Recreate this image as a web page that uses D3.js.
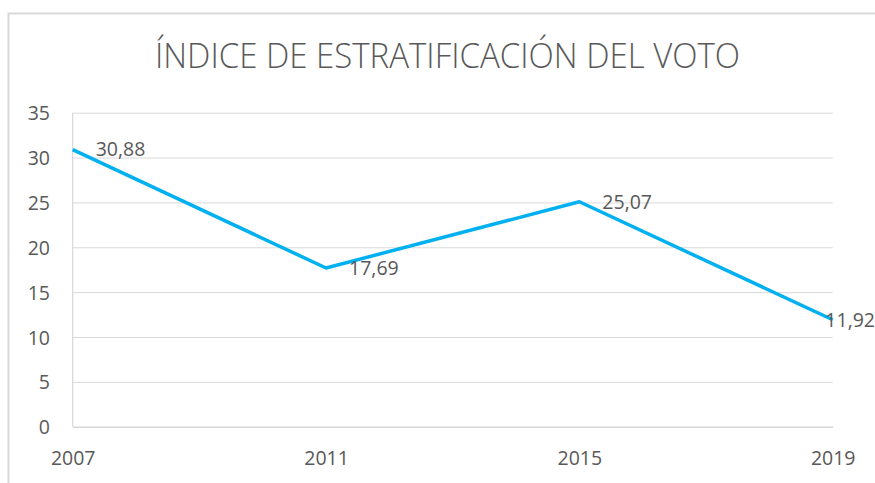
<!DOCTYPE html>
<meta charset="utf-8">
<style>
  body { margin: 0; background: #fff; }
  text { font-family: "Open Sans", "Liberation Sans", sans-serif; fill: #595959; }
</style>
<svg width="875" height="483"></svg>
<script src="https://d3js.org/d3.v7.min.js"></script>
<script>

var title = 'ÍNDICE DE ESTRATIFICACIÓN DEL VOTO'
var years = ['2007', '2011', '2015', '2019']
var values = [30.88, 17.69, 25.07, 11.92]
var yTicks = [0, 5, 10, 15, 20, 25, 30, 35]

var width = 875
var height = 483
// note: "top" is taken by window.top, so plot edges get their own names
var plotLeft = 72.7, plotRight = 832.7, plotTop = 112.7, plotBottom = 426.7

var svg = d3.select('svg')

// chart frame, runs off the right and bottom edge like the picture
svg.append('rect')
  .attr('x', 8.5).attr('y', 13.5)
  .attr('width', 900).attr('height', 500)
  .attr('fill', '#fff')
  .attr('stroke', '#d9d9d9')
  .attr('stroke-width', 2)

svg.append('text')
  .attr('x', 447.5).attr('y', 67.5)
  .attr('text-anchor', 'middle')
  .attr('font-size', 34)
  .attr('font-weight', 300)
  .attr('textLength', 585)
  .attr('lengthAdjust', 'spacingAndGlyphs')
  .text(title)

var x = d3.scalePoint().domain(years).range([plotLeft, plotRight])
var y = d3.scaleLinear().domain([0, 35]).range([plotBottom, plotTop])

// gridlines + value labels
var yAxis = svg.append('g')
  .attr('transform', 'translate(' + plotLeft + ',0)')
  .call(d3.axisLeft(y).tickValues(yTicks).tickSize(-(plotRight - plotLeft)).tickPadding(22.7))
yAxis.select('.domain').remove()
yAxis.selectAll('line').attr('stroke', '#d9d9d9').attr('stroke-width', 1)
yAxis.selectAll('text')
  .attr('font-size', 19.5)
  .attr('fill', '#595959')
  .attr('dy', '0.36em')
yAxis.attr('font-family', null).attr('font-size', null)

// left axis line
svg.append('line')
  .attr('x1', plotLeft).attr('x2', plotLeft)
  .attr('y1', plotTop).attr('y2', plotBottom)
  .attr('stroke', '#d0d0d0')

var xAxis = svg.append('g')
  .attr('transform', 'translate(0,' + plotBottom + ')')
  .call(d3.axisBottom(x).tickSize(0).tickPadding(24.5))
xAxis.select('.domain').attr('stroke', '#d0d0d0')
xAxis.selectAll('text')
  .attr('font-size', 19.5)
  .attr('fill', '#595959')
xAxis.attr('font-family', null).attr('font-size', null)

var line = d3.line()
  .x(function (d, i) { return x(years[i]) })
  .y(function (d) { return y(d) })

svg.append('path')
  .datum(values)
  .attr('d', line)
  .attr('fill', 'none')
  .attr('stroke', '#00b0f0')
  .attr('stroke-width', 3.5)
  .attr('stroke-linejoin', 'round')

var labels = svg.append('g').selectAll('text')
  .data(values)
  .enter().append('text')
    .attr('font-size', 19.5)
    .attr('fill', '#404040')
    .attr('dy', '0.35em')
    .attr('y', function (d) { return y(d) })
    .text(function (d) { return d.toFixed(2).replace('.', ',') })

// put labels right of the point, pushed back inside when they would run off
labels.attr('x', function (d, i) {
  var w = this.getComputedTextLength()
  return Math.min(x(years[i]) + 23, width - w)
})
</script>
